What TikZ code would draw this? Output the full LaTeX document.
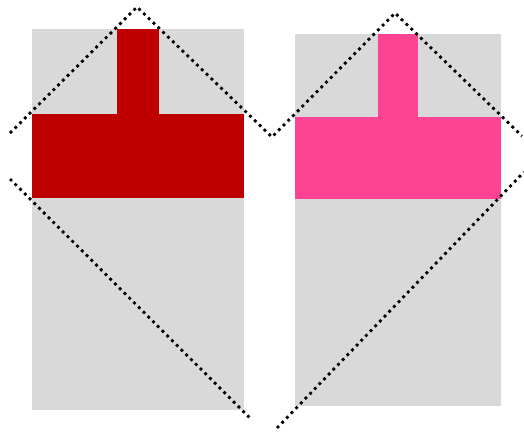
\documentclass[tikz,border=0pt]{standalone}
\begin{document}
\begin{tikzpicture}[x=1pt,y=-1pt,
  panel/.style={fill=grayfill,draw=none},
  redpart/.style={fill=darkred,draw=none},
  pinkpart/.style={fill=hotpink,draw=none},
  dotline/.style={draw=black,line width=2.8pt,dash pattern=on 2.8pt off 3.9pt}]
\definecolor{grayfill}{HTML}{D9D9D9}
\definecolor{darkred}{HTML}{C00000}
\definecolor{hotpink}{HTML}{FF4393}
\useasboundingbox (0,0) rectangle (524,432);
% left panel
\fill[panel] (32,29) rectangle (244,410);
\fill[redpart] (117,29) rectangle (159,114);
\fill[redpart] (32,114) rectangle (244,198);
% right panel
\fill[panel] (295,34) rectangle (501,406);
\fill[pinkpart] (378,34) rectangle (418,117);
\fill[pinkpart] (295,117) rectangle (501,199);
% dotted outline
\coordinate (a) at (10,133);
\coordinate (b) at (137,7);
\coordinate (c) at (272,137);
\coordinate (d) at (395,13);
\coordinate (e) at (522,136);
\coordinate (f) at (10,179);
\coordinate (g) at (252,420);
\coordinate (h) at (277,428);
\coordinate (i) at (524,172);
\draw[dotline] (a) -- (b) -- (c) -- (d) -- (e);
\draw[dotline] (f) -- (g);
\draw[dotline] (h) -- (i);
\end{tikzpicture}
\end{document}
